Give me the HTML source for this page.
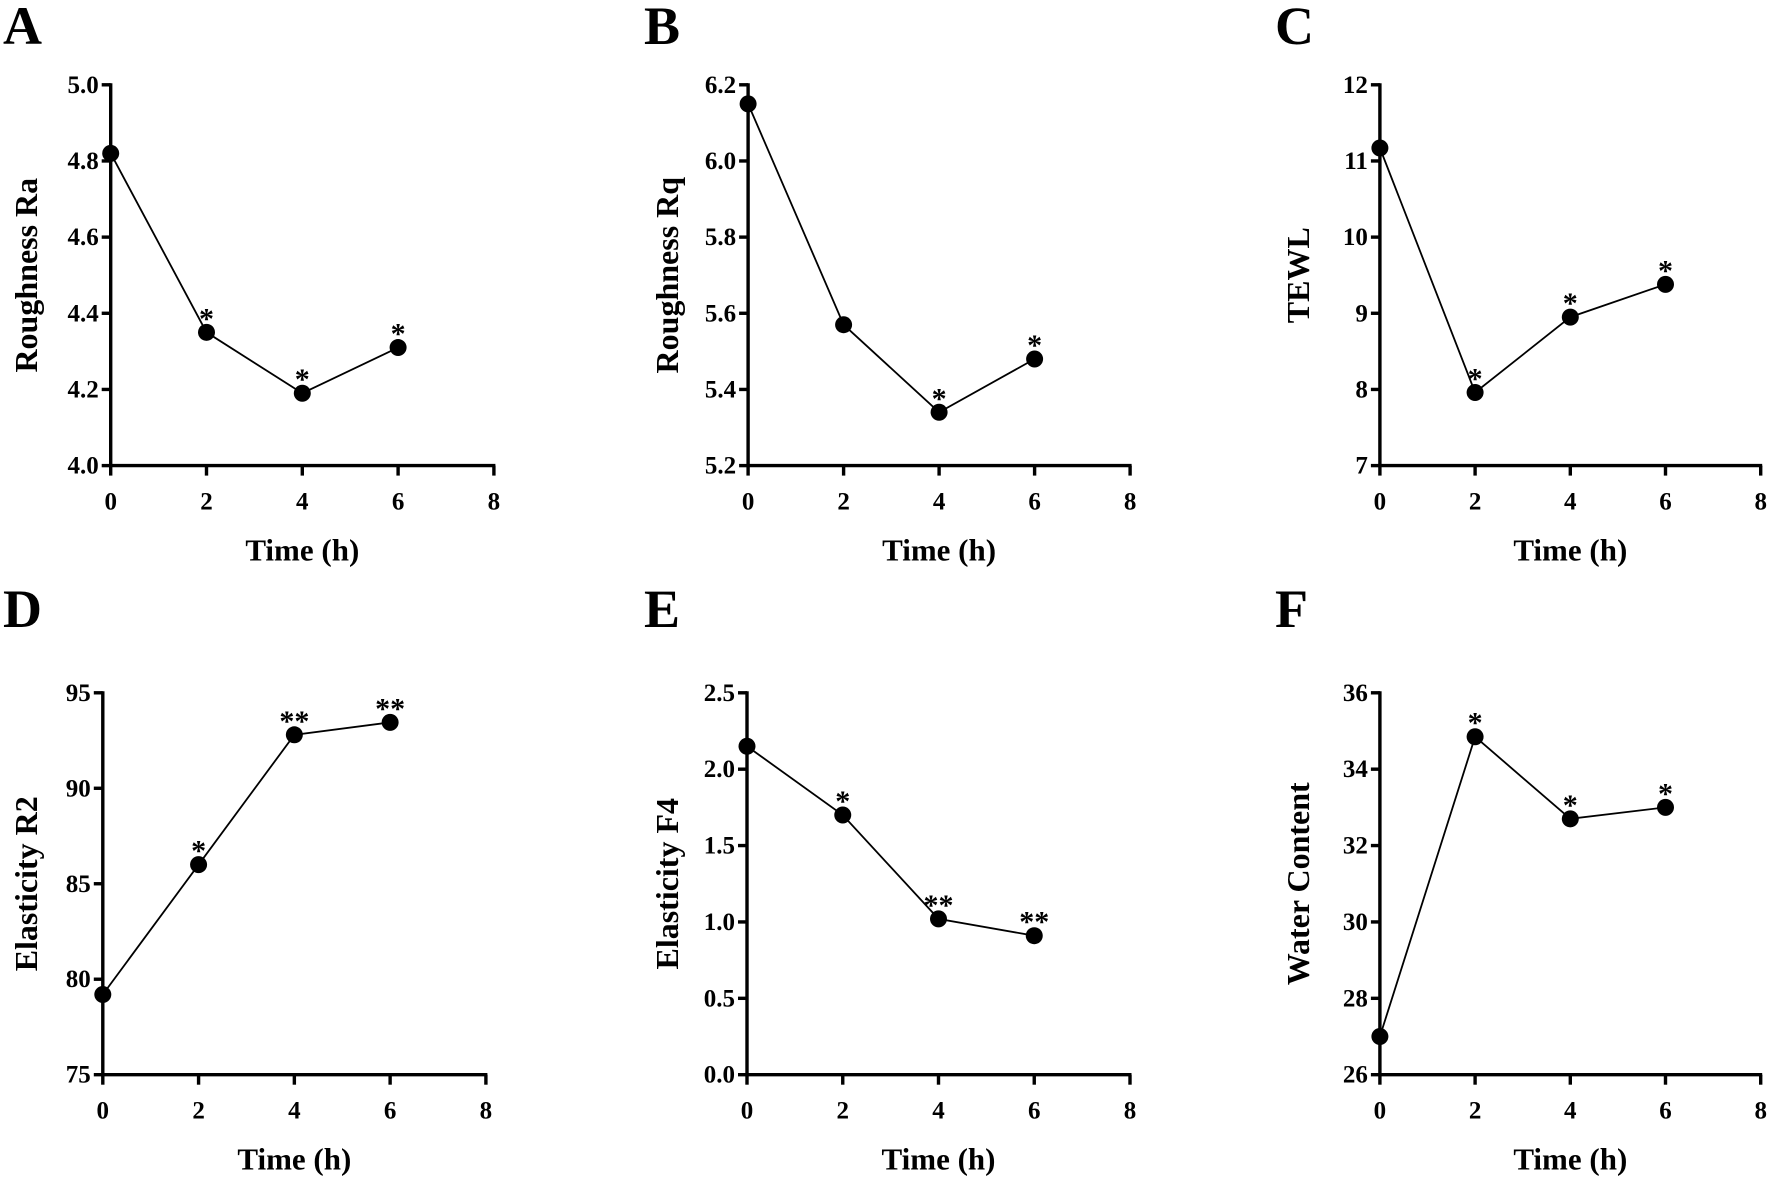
<!DOCTYPE html>
<html><head><meta charset="utf-8"><style>
html,body{margin:0;padding:0;background:#fff}
svg{display:block}
text{font-family:"Liberation Serif",serif;font-weight:bold;fill:#000}
</style></head><body>
<svg id="fig" width="1772" height="1182" viewBox="0 0 1772 1182" xmlns="http://www.w3.org/2000/svg"></svg>
<script>
const xCategories=[0,2,4,6];
const xTicks=[0,2,4,6,8];
const seriesA=[4.82,4.35,4.19,4.31];
const seriesB=[6.15,5.57,5.34,5.48];
const seriesC=[11.17,7.96,8.95,9.38];
const seriesD=[79.2,86.0,92.8,93.45];
const seriesE=[2.15,1.70,1.02,0.91];
const seriesF=[27.0,34.85,32.7,33.0];
const starsA=["","*","*","*"];
const starsB=["","","*","*"];
const starsC=["","*","*","*"];
const starsD=["","*","**","**"];
const starsE=["","*","**","**"];
const starsF=["","*","*","*"];
const ticksA=["4.0","4.2","4.4","4.6","4.8","5.0"];
const ticksB=["5.2","5.4","5.6","5.8","6.0","6.2"];
const ticksC=["7","8","9","10","11","12"];
const ticksD=["75","80","85","90","95"];
const ticksE=["0.0","0.5","1.0","1.5","2.0","2.5"];
const ticksF=["26","28","30","32","34","36"];
const titles=["Roughness Ra","Roughness Rq","TEWL","Elasticity R2","Elasticity F4","Water Content"];
const letters=["A","B","C","D","E","F"];

const NS="http://www.w3.org/2000/svg";
const svg=document.getElementById('fig');
function mk(tag,attrs,parent,txt){const e=document.createElementNS(NS,tag);for(const k in attrs)e.setAttribute(k,attrs[k]);if(txt!==undefined)e.textContent=txt;(parent||svg).appendChild(e);return e;}

const panels=[
 {s:seriesA,st:starsA,t:ticksA,x0:110.7,x1:493.9,yt:84.8,yb:465.6,lx:3,ly:44},
 {s:seriesB,st:starsB,t:ticksB,x0:748.1,x1:1130.1,yt:84.8,yb:465.6,lx:644,ly:44},
 {s:seriesC,st:starsC,t:ticksC,x0:1379.9,x1:1760.7,yt:84.8,yb:465.6,lx:1275,ly:44},
 {s:seriesD,st:starsD,t:ticksD,x0:102.8,x1:485.9,yt:692.8,yb:1074.7,lx:3,ly:627},
 {s:seriesE,st:starsE,t:ticksE,x0:747,x1:1130,yt:692.8,yb:1074.7,lx:644,ly:627},
 {s:seriesF,st:starsF,t:ticksF,x0:1379.9,x1:1760.7,yt:692.8,yb:1074.7,lx:1275,ly:627}
];

panels.forEach((p,i)=>{
 const g=mk('g',{});
 
 
 const ymin=parseFloat(p.t[0]), ymax=parseFloat(p.t[p.t.length-1]);
 const xs=v=>p.x0+(v-xTicks[0])/(xTicks[xTicks.length-1]-xTicks[0])*(p.x1-p.x0);
 const ys=v=>p.yb-(v-ymin)/(ymax-ymin)*(p.yb-p.yt);
 const L=mk('text',{x:p.lx,y:p.ly,'font-size':54},g,letters[i]);
 
 
 const ya=mk('line',{x1:p.x0,y1:p.yt-1.5,x2:p.x0,y2:p.yb+1.5,stroke:'#000','stroke-width':3.4},g);
 
 
 const xa=mk('line',{x1:p.x0-1.5,y1:p.yb,x2:p.x1+1.5,y2:p.yb,stroke:'#000','stroke-width':3.4},g);
 
 
 p.t.forEach(t=>{
  const y=ys(parseFloat(t));
  mk('line',{x1:p.x0-9,y1:y,x2:p.x0,y2:y,stroke:'#000','stroke-width':3.4},g);
  const tl=mk('text',{x:p.x0-12,y:y+8,'font-size':25,'text-anchor':'end'},g,t);
  
  
 });
 xTicks.forEach(t=>{
  const x=xs(t);
  mk('line',{x1:x,y1:p.yb,x2:x,y2:p.yb+10,stroke:'#000','stroke-width':3.4},g);
  const tl=mk('text',{x:x,y:p.yb+44,'font-size':25,'text-anchor':'middle'},g,String(t));
  
  
 });
 const xt=mk('text',{x:(p.x0+p.x1)/2,y:p.yb+95,'font-size':31,'text-anchor':'middle'},g,'Time (h)');
 
 
 const cy=(p.yt+p.yb)/2, tx=p.lx+34;
 const yt=mk('text',{x:tx,y:cy,'font-size':32,'text-anchor':'middle',transform:`rotate(-90 ${tx} ${cy})`},g,titles[i]);
 
 
 const pts=xCategories.map((c,j)=>xs(c)+','+ys(p.s[j])).join(' ');
 const ln=mk('polyline',{points:pts,fill:'none',stroke:'#000','stroke-width':1.8},g);
 
 
 xCategories.forEach((c,j)=>{
  const cx=xs(c), cyy=ys(p.s[j]);
  const m=mk('circle',{cx:cx,cy:cyy,r:8.5,fill:'#000'},g);
  
  
  if(p.st[j]){
   const s=mk('text',{x:cx,y:cyy-4,'font-size':30,'font-weight':'normal','text-anchor':'middle'},g,p.st[j]);
   
   
  }
 });
});
</script>
</body></html>
